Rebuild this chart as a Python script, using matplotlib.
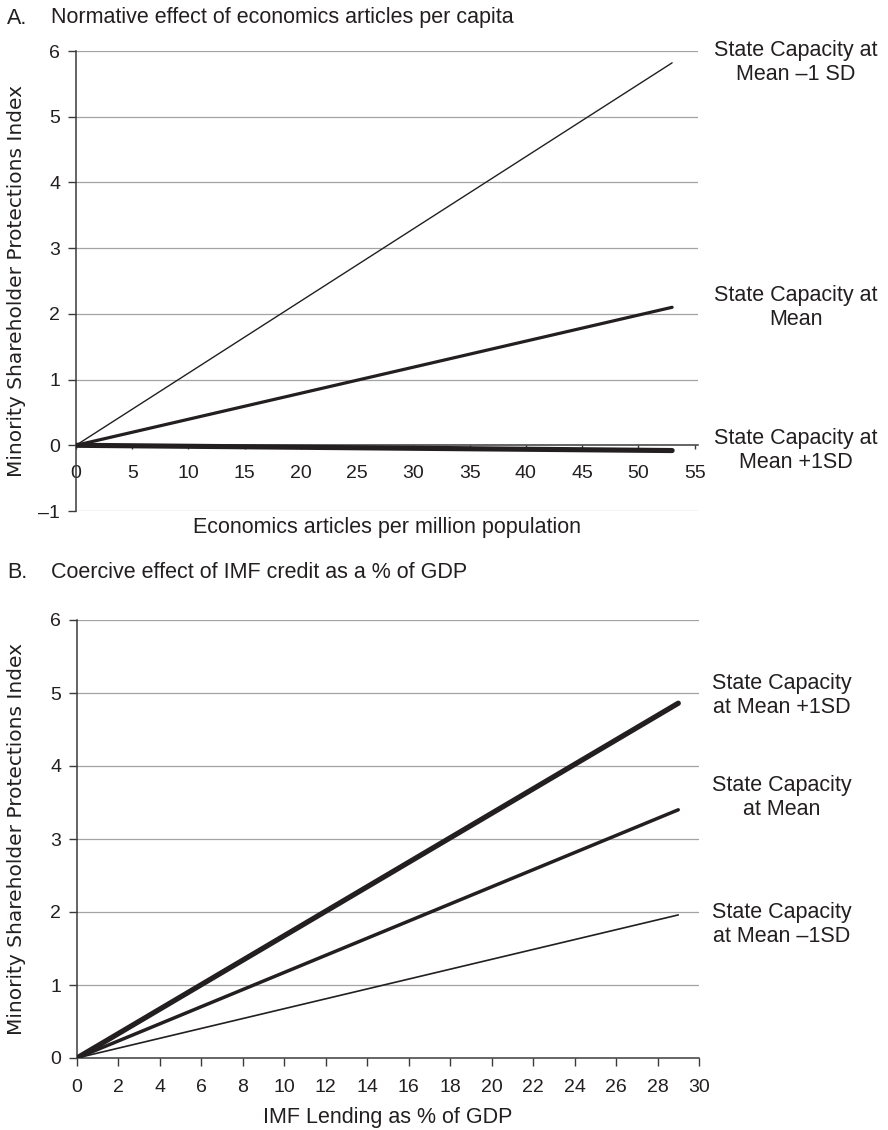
import matplotlib.pyplot as plt

plt.rcParams['font.family'] = ['Liberation Sans', 'DejaVu Sans']

# panel A data
a_x = [0, 53]
a_low = [0, 5.82]    # state capacity at mean -1 SD
a_mean = [0, 2.10]
a_high = [0, -0.08]  # mean +1 SD
a_xticks = list(range(0, 56, 5))
a_yticks = [-1, 0, 1, 2, 3, 4, 5, 6]
a_yticklabels = ['\u20131', '0', '1', '2', '3', '4', '5', '6']

# panel B data
b_x = [0, 29]
b_high = [0, 4.86]
b_mean = [0, 3.40]
b_low = [0, 1.96]
b_xticks = list(range(0, 31, 2))
b_yticks = [0, 1, 2, 3, 4, 5, 6]

ink = '#231f20'
grid_c = '#a3a3a3'
W, H = 888, 1130

fig = plt.figure(figsize=(W / 100, H / 100), dpi=100)

def style_axes(ax, yticks, ylabels):
    for s in ['top', 'right']:
        ax.spines[s].set_visible(False)
    for s in ['left', 'bottom']:
        ax.spines[s].set_color('#3a3a3a')
        ax.spines[s].set_linewidth(1.1)
    ax.set_yticks(yticks)
    ax.set_yticklabels(ylabels)
    ax.tick_params(axis='y', length=6, width=1, color='#3a3a3a', labelsize=14, labelcolor=ink, pad=5.5)
    ax.tick_params(axis='x', direction='out', width=1, color='#3a3a3a', labelsize=14, labelcolor=ink)
    for y in yticks:
        if y != 0:
            ax.axhline(y, color=grid_c, lw=0.9, zorder=0)

lab_kw = dict(ha='center', va='center', fontsize=15.5, color=ink, clip_on=False, linespacing=1.2)
ylab_kw = dict(fontsize=14.5, color=ink, family='DejaVu Sans')

# ---- panel A ----
ax1 = fig.add_axes([76 / W, 1 - 511 / H, 622 / W, 460 / H])
ax1.set_xlim(0, 55.3)
ax1.set_ylim(-1, 6)
style_axes(ax1, a_yticks, a_yticklabels)
ax1.spines['bottom'].set_position(('data', 0))
ax1.set_xticks(a_xticks)
ax1.tick_params(axis='x', length=3, pad=11.5)
ax1.plot(a_x, a_low, color=ink, lw=1.0, solid_capstyle='round', zorder=3)
ax1.plot(a_x, a_mean, color=ink, lw=2.3, solid_capstyle='round', zorder=3)
ax1.plot(a_x, a_high, color=ink, lw=3.7, solid_capstyle='round', zorder=3)
ax1.text(64.0, a_low[-1], 'State Capacity at\nMean \u20131 SD', **lab_kw)
ax1.text(64.0, a_mean[-1], 'State Capacity at\nMean', **lab_kw)
ax1.text(64.0, a_high[-1], 'State Capacity at\nMean +1SD', **lab_kw)
ax1.set_ylabel('Minority Shareholder Protections Index', **ylab_kw)
ax1.yaxis.set_label_coords(-50 / 622, 0.5)
fig.text(387 / W, 1 - 528 / H, 'Economics articles per million population',
         ha='center', va='center', fontsize=15.5, color=ink)
fig.text(7 / W, 1 - 18 / H, 'A.', ha='left', va='center', fontsize=15.5, color=ink)
fig.text(51 / W, 1 - 18 / H, 'Normative effect of economics articles per capita',
         ha='left', va='center', fontsize=15.5, color=ink)

# ---- panel B ----
ax2 = fig.add_axes([77 / W, 1 - 1058 / H, 622 / W, 438 / H])
ax2.set_xlim(0, 30)
ax2.set_ylim(0, 6)
style_axes(ax2, b_yticks, [str(v) for v in b_yticks])
ax2.set_xticks(b_xticks)
ax2.tick_params(axis='x', length=6, pad=9)
ax2.plot(b_x, b_low, color=ink, lw=1.2, solid_capstyle='round', zorder=3)
ax2.plot(b_x, b_mean, color=ink, lw=2.5, solid_capstyle='round', zorder=3)
ax2.plot(b_x, b_high, color=ink, lw=3.8, solid_capstyle='round', zorder=3)
ax2.text(34.0, 4.97, 'State Capacity\nat Mean +1SD', **lab_kw)
ax2.text(34.0, 3.57, 'State Capacity\nat Mean', **lab_kw)
ax2.text(34.0, 1.83, 'State Capacity\nat Mean \u20131SD', **lab_kw)
ax2.set_ylabel('Minority Shareholder Protections Index', **ylab_kw)
ax2.yaxis.set_label_coords(-51 / 622, 0.5)
fig.text(388 / W, 1 - 1118 / H, 'IMF Lending as % of GDP',
         ha='center', va='center', fontsize=15.5, color=ink)
fig.text(7 / W, 1 - 572 / H, 'B.', ha='left', va='center', fontsize=15.5, color=ink)
fig.text(51 / W, 1 - 572 / H, 'Coercive effect of IMF credit as a % of GDP',
         ha='left', va='center', fontsize=15.5, color=ink)

fig.savefig('out.png', dpi=100)
